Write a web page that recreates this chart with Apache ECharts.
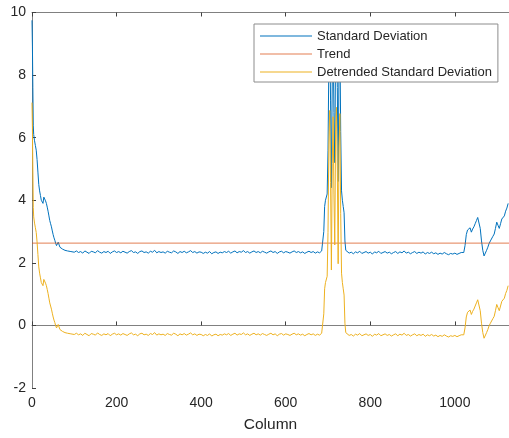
<!DOCTYPE html>
<html>
<head>
<meta charset="utf-8">
<script src="https://cdn.jsdelivr.net/npm/echarts@6/dist/echarts.min.js"></script>
<style>
html,body{margin:0;padding:0;background:#fff;}
#chart{width:509px;height:438px;}
</style>
</head>
<body>
<div id="chart"></div>
<script>
// ---- data ([column, value]) ----
const seriesNames = ['Standard Deviation', 'Trend', 'Detrended Standard Deviation'];
const xTicks = [0, 200, 400, 600, 800, 1000];
const yTicks = [-2, 0, 2, 4, 6, 8, 10];

const stdDev = [
  [0,9.75],[1,8.9],[2,7.6],[3,6.4],[4,6.1],[5,6.0],[6,5.9],[8,5.75],[10,5.6],[12,5.3],
  [14,4.9],[16,4.5],[18,4.3],[20,4.15],[22,4.0],[24,3.95],[26,3.9],[28,4.1],[30,4.12],[32,3.98],
  [34,3.9],[36,3.78],[38,3.65],[40,3.5],[42,3.35],[44,3.25],[46,3.15],[48,3.02],[50,2.9],[52,2.8],
  [54,2.72],[56,2.62],[58,2.55],[60,2.58],[62,2.66],[64,2.6],[66,2.5],[68,2.55],[70,2.46],[72,2.44],
  [74,2.48],[76,2.42],[78,2.4],[80,2.43],[84,2.38],[88,2.4],[92,2.36],[96,2.37],[100,2.34],[105,2.38],
  [110,2.33],[115,2.36],[120,2.31],[125,2.38],[130,2.34],[135,2.30],[140,2.37],[145,2.35],[150,2.32],[155,2.39],
  [160,2.34],[165,2.31],[170,2.36],[175,2.33],[180,2.37],[185,2.30],[190,2.35],[195,2.38],[200,2.33],[205,2.36],
  [210,2.32],[215,2.37],[220,2.34],[225,2.31],[230,2.36],[235,2.39],[240,2.33],[245,2.35],[250,2.30],[255,2.36],
  [260,2.38],[265,2.33],[270,2.35],[275,2.31],[280,2.37],[285,2.34],[290,2.40],[295,2.32],[300,2.36],[305,2.33],
  [310,2.35],[315,2.31],[320,2.37],[325,2.34],[330,2.32],[335,2.38],[340,2.35],[345,2.30],[350,2.36],[355,2.33],
  [360,2.37],[365,2.32],[370,2.35],[375,2.39],[380,2.33],[385,2.36],[390,2.31],[395,2.35],[400,2.34],[405,2.30],
  [410,2.34],[415,2.31],[420,2.36],[425,2.29],[430,2.33],[435,2.35],[440,2.30],[445,2.34],[450,2.32],[455,2.36],
  [460,2.33],[465,2.37],[470,2.31],[475,2.35],[480,2.38],[485,2.32],[490,2.36],[495,2.34],[500,2.39],[505,2.33],
  [510,2.36],[515,2.31],[520,2.35],[525,2.38],[530,2.33],[535,2.36],[540,2.32],[545,2.37],[550,2.34],[555,2.31],
  [560,2.35],[565,2.38],[570,2.33],[575,2.36],[580,2.30],[585,2.35],[590,2.37],[595,2.32],[600,2.36],[605,2.34],
  [610,2.31],[615,2.35],[620,2.38],[625,2.33],[630,2.36],[635,2.32],[640,2.35],[645,2.30],[650,2.34],[655,2.37],
  [660,2.33],[665,2.36],[670,2.31],[675,2.35],[680,2.32],[685,2.38],
  [688,2.4],[690,3.0],[692,3.8],[694,4.0],[696,4.05],[698,4.2],[700,5.6],[702,8.4],[704,9.5],[706,7.2],
  [708,4.4],[710,7.8],[712,9.3],[714,6.8],[716,5.2],[718,8.9],[720,9.6],[722,7.6],[724,4.6],[726,8.3],
  [728,9.4],[730,6.2],[732,4.3],[734,4.0],[736,3.8],[738,3.6],[740,2.7],[742,2.4],
  [745,2.36],[750,2.31],[755,2.34],[760,2.29],[765,2.35],[770,2.32],[775,2.37],[780,2.30],[785,2.33],[790,2.36],
  [795,2.31],[800,2.34],[805,2.28],[810,2.35],[815,2.32],[820,2.37],[825,2.30],[830,2.33],[835,2.36],[840,2.31],
  [845,2.34],[850,2.29],[855,2.33],[860,2.36],[865,2.30],[870,2.35],[875,2.32],[880,2.38],[885,2.31],[890,2.34],
  [895,2.29],[900,2.33],[905,2.36],[910,2.30],[915,2.34],[920,2.31],[925,2.35],[930,2.28],[935,2.33],[940,2.30],
  [945,2.34],[950,2.29],[955,2.32],[960,2.27],[965,2.31],[970,2.28],[975,2.33],[980,2.29],[985,2.26],[990,2.30],
  [995,2.28],[1000,2.31],[1005,2.27],[1010,2.30],[1015,2.33],
  [1018,2.3],[1021,2.33],[1024,2.55],[1027,2.9],[1030,3.05],[1033,3.0],[1036,3.12],[1039,2.98],[1042,3.08],[1045,3.15],
  [1048,3.25],[1051,3.35],[1054,3.45],[1057,3.5],[1060,3.1],[1063,2.7],[1066,2.4],[1069,2.22],[1072,2.25],[1075,2.4],
  [1078,2.5],[1081,2.62],[1084,2.7],[1087,2.65],[1090,2.85],[1093,2.92],[1096,3.1],[1099,3.3],[1102,3.2],[1105,3.1],
  [1108,3.25],[1111,3.4],[1114,3.35],[1117,3.5],[1120,3.65],[1123,3.75],[1126,3.9]
];

const trend = [[0,2.63],[1128,2.63]];

const detrended = [
  [0,7.12],[1,6.27],[2,4.97],[3,3.77],[4,3.47],[5,3.37],[6,3.27],[8,3.12],[10,2.97],[12,2.67],
  [14,2.27],[16,1.87],[18,1.67],[20,1.52],[22,1.37],[24,1.32],[26,1.27],[28,1.47],[30,1.49],[32,1.35],
  [34,1.27],[36,1.15],[38,1.02],[40,0.87],[42,0.72],[44,0.62],[46,0.52],[48,0.39],[50,0.27],[52,0.17],
  [54,0.09],[56,-0.01],[58,-0.08],[60,-0.05],[62,0.03],[64,-0.03],[66,-0.13],[68,-0.08],[70,-0.17],[72,-0.19],
  [74,-0.15],[76,-0.21],[78,-0.23],[80,-0.20],[84,-0.25],[88,-0.23],[92,-0.27],[96,-0.26],[100,-0.29],[105,-0.25],
  [110,-0.30],[115,-0.27],[120,-0.32],[125,-0.25],[130,-0.29],[135,-0.33],[140,-0.26],[145,-0.28],[150,-0.31],[155,-0.24],
  [160,-0.29],[165,-0.32],[170,-0.27],[175,-0.30],[180,-0.26],[185,-0.33],[190,-0.28],[195,-0.25],[200,-0.30],[205,-0.27],
  [210,-0.31],[215,-0.26],[220,-0.29],[225,-0.32],[230,-0.27],[235,-0.24],[240,-0.30],[245,-0.28],[250,-0.33],[255,-0.27],
  [260,-0.25],[265,-0.30],[270,-0.28],[275,-0.32],[280,-0.26],[285,-0.29],[290,-0.23],[295,-0.31],[300,-0.27],[305,-0.30],
  [310,-0.28],[315,-0.32],[320,-0.26],[325,-0.29],[330,-0.31],[335,-0.25],[340,-0.28],[345,-0.33],[350,-0.27],[355,-0.30],
  [360,-0.26],[365,-0.31],[370,-0.28],[375,-0.24],[380,-0.30],[385,-0.27],[390,-0.32],[395,-0.28],[400,-0.29],[405,-0.33],
  [410,-0.29],[415,-0.32],[420,-0.27],[425,-0.34],[430,-0.30],[435,-0.28],[440,-0.33],[445,-0.29],[450,-0.31],[455,-0.27],
  [460,-0.30],[465,-0.26],[470,-0.32],[475,-0.28],[480,-0.25],[485,-0.31],[490,-0.27],[495,-0.29],[500,-0.24],[505,-0.30],
  [510,-0.27],[515,-0.32],[520,-0.28],[525,-0.25],[530,-0.30],[535,-0.27],[540,-0.31],[545,-0.26],[550,-0.29],[555,-0.32],
  [560,-0.28],[565,-0.25],[570,-0.30],[575,-0.27],[580,-0.33],[585,-0.28],[590,-0.26],[595,-0.31],[600,-0.27],[605,-0.29],
  [610,-0.32],[615,-0.28],[620,-0.25],[625,-0.30],[630,-0.27],[635,-0.31],[640,-0.28],[645,-0.33],[650,-0.29],[655,-0.26],
  [660,-0.30],[665,-0.27],[670,-0.32],[675,-0.28],[680,-0.31],[685,-0.25],
  [688,-0.23],[690,0.37],[692,1.17],[694,1.37],[696,1.42],[698,1.57],[700,2.97],[702,5.77],[704,6.87],[706,4.57],
  [708,1.77],[710,5.17],[712,6.67],[714,4.17],[716,2.57],[718,6.27],[720,6.97],[722,4.97],[724,1.97],[726,5.67],
  [728,6.77],[730,3.57],[732,1.67],[734,1.37],[736,1.17],[738,0.97],[740,0.07],[742,-0.23],
  [745,-0.27],[750,-0.32],[755,-0.29],[760,-0.34],[765,-0.28],[770,-0.31],[775,-0.26],[780,-0.33],[785,-0.30],[790,-0.27],
  [795,-0.32],[800,-0.29],[805,-0.35],[810,-0.28],[815,-0.31],[820,-0.26],[825,-0.33],[830,-0.30],[835,-0.27],[840,-0.32],
  [845,-0.29],[850,-0.34],[855,-0.30],[860,-0.27],[865,-0.33],[870,-0.28],[875,-0.31],[880,-0.25],[885,-0.32],[890,-0.29],
  [895,-0.34],[900,-0.30],[905,-0.27],[910,-0.33],[915,-0.29],[920,-0.32],[925,-0.28],[930,-0.35],[935,-0.30],[940,-0.33],
  [945,-0.29],[950,-0.34],[955,-0.31],[960,-0.36],[965,-0.32],[970,-0.35],[975,-0.30],[980,-0.34],[985,-0.37],[990,-0.33],
  [995,-0.35],[1000,-0.32],[1005,-0.36],[1010,-0.33],[1015,-0.30],
  [1018,-0.33],[1021,-0.30],[1024,-0.08],[1027,0.27],[1030,0.42],[1033,0.37],[1036,0.49],[1039,0.35],[1042,0.45],[1045,0.52],
  [1048,0.62],[1051,0.72],[1054,0.82],[1057,0.87],[1060,0.47],[1063,0.07],[1066,-0.23],[1069,-0.41],[1072,-0.38],[1075,-0.23],
  [1078,-0.13],[1081,-0.01],[1084,0.07],[1087,0.02],[1090,0.22],[1093,0.29],[1096,0.47],[1099,0.67],[1102,0.57],[1105,0.47],
  [1108,0.62],[1111,0.77],[1114,0.72],[1117,0.87],[1120,1.02],[1123,1.12],[1126,1.27]
];

const colors = ['#0072BD', '#D95319', '#EDB120'];

// ---- chart ----
const FONT = '"Liberation Sans", Arial, Helvetica, sans-serif';
const axisGray = '#808080';
const textGray = '#262626';

const chart = echarts.init(document.getElementById('chart'), null, {renderer: 'canvas'});

const xMin = xTicks[0], xMax = 1128, yMin = yTicks[0], yMax = yTicks[yTicks.length - 1];

const option = {
  animation: false,
  backgroundColor: '#ffffff',
  textStyle: {fontFamily: FONT},
  grid: {left: 32, top: 12.5, width: 477, height: 380, containLabel: false},
  legend: {
    orient: 'vertical',
    left: 254, top: 24,
    padding: [3, 6, 1, 6],
    itemGap: 0,
    icon: 'rect',
    itemWidth: 52,
    itemHeight: 1,
    backgroundColor: '#ffffff',
    borderColor: '#8c8c8c',
    borderWidth: 1,
    borderRadius: 0,
    textStyle: {fontFamily: FONT, fontSize: 13, lineHeight: 18, color: textGray},
    data: seriesNames
  },
  xAxis: [{
    type: 'value', min: xMin, max: xMax, interval: 200,
    position: 'bottom',
    name: 'Column', nameLocation: 'middle', nameGap: 29,
    nameTextStyle: {fontFamily: FONT, fontSize: 15.5, color: textGray},
    axisLine: {show: true, lineStyle: {color: axisGray, width: 1}},
    axisTick: {show: true, inside: true, length: 4, lineStyle: {color: '#404040'}},
    axisLabel: {show: true, margin: 8, fontFamily: FONT, fontSize: 14, color: textGray,
      showMaxLabel: false, formatter: v => String(v)},
    splitLine: {show: false}
  }, {
    type: 'value', min: xMin, max: xMax, interval: 200,
    position: 'top',
    axisLine: {show: true, lineStyle: {color: axisGray, width: 1}},
    axisTick: {show: true, inside: true, length: 4, lineStyle: {color: '#404040'}},
    axisLabel: {show: false},
    splitLine: {show: false}
  }],
  yAxis: [{
    type: 'value', min: yMin, max: yMax, interval: 2,
    position: 'left',
    axisLine: {show: true, lineStyle: {color: axisGray, width: 1}},
    axisTick: {show: true, inside: true, length: 4, lineStyle: {color: '#404040'}},
    axisLabel: {show: true, margin: 6, fontFamily: FONT, fontSize: 14, color: textGray,
      formatter: v => String(v)},
    splitLine: {show: false}
  }],
  series: [
    {name: seriesNames[0], type: 'line', data: stdDev, symbol: 'none', showSymbol: false,
      lineStyle: {color: colors[0], width: 1}, itemStyle: {color: colors[0]}, z: 2},
    {name: seriesNames[1], type: 'line', data: trend, symbol: 'none', showSymbol: false,
      lineStyle: {color: colors[1], width: 1, opacity: 0.75}, itemStyle: {color: colors[1], opacity: 0.75}, z: 2},
    {name: seriesNames[2], type: 'line', data: detrended, symbol: 'none', showSymbol: false,
      lineStyle: {color: colors[2], width: 1}, itemStyle: {color: colors[2]}, z: 2}
  ]
};

chart.setOption(option);
</script>
</body>
</html>
